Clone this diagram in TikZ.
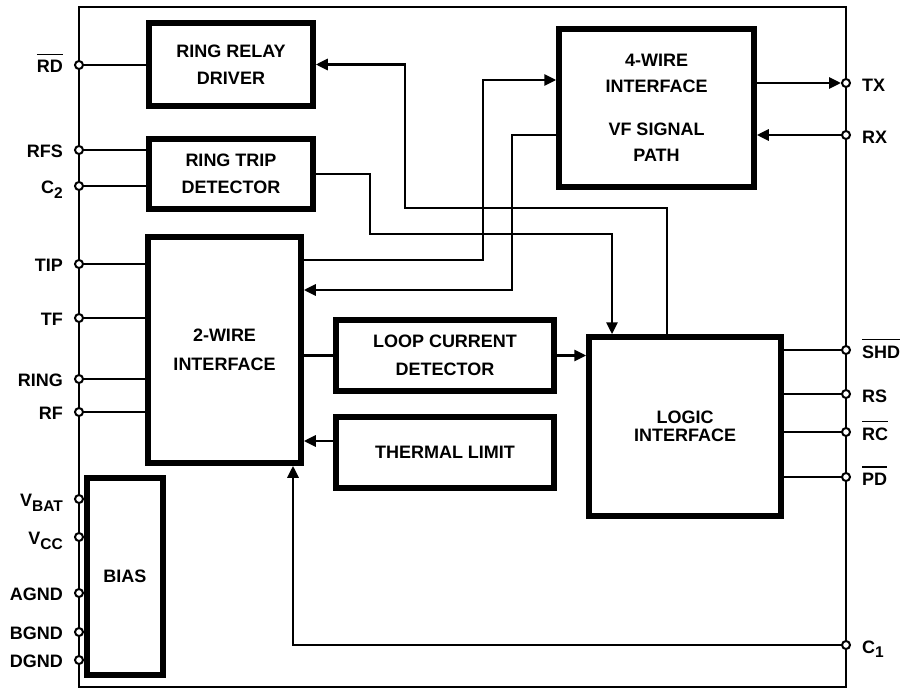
\documentclass[tikz,border=0pt]{standalone}
\usepackage{fontspec}
\setmainfont{Liberation Sans}
\usetikzlibrary{arrows.meta}
\newcommand\ovl[1]{\leavevmode\vbox{\hrule height 1.5pt\kern 5.5pt\hbox{#1}}}
\newcommand\sbs[1]{\raisebox{-4.5pt}{\fontsize{15.5}{15.5}\selectfont #1}}
\begin{document}
\begin{tikzpicture}[x=1pt,y=-1pt,
  wire/.style={line width=2.9pt},
  arr/.style={wire,-{Triangle[length=12pt,width=11pt]}},
  blk/.style={draw, line width=5.5pt, align=center, inner sep=0pt,
    font=\fontsize{18}{27.5}\selectfont\bfseries},
  pinc/.style={circle, draw, fill=white, line width=2pt, minimum size=8pt, inner sep=0pt},
  lbl/.style={inner sep=0pt, text height=12.9pt, text depth=0pt, font=\fontsize{18}{20}\selectfont\bfseries},
  lblL/.style={lbl, anchor=east},
  lblR/.style={lbl, anchor=west}]
\useasboundingbox (0,0) rectangle (904,690);
\draw[line width=2.9pt] (79,7) rectangle (846,687);

% blocks
\node[blk, minimum width=164pt, minimum height=83pt] (rrd) at (231,64.5) {RING RELAY\\DRIVER};
\node[blk, minimum width=164pt, minimum height=70pt] (rtd) at (231,174) {RING TRIP\\DETECTOR};
\node[blk, minimum width=195pt, minimum height=158pt,
  font=\fontsize{18}{26}\selectfont\bfseries] (fw) at (656.5,108) {4-WIRE\\INTERFACE\\[17.5pt]VF SIGNAL\\PATH};
\node[blk, minimum width=153pt, minimum height=226pt,
  font=\fontsize{18}{29.5}\selectfont\bfseries] (tw) at (224.5,350) {2-WIRE\\INTERFACE};
\node[blk, minimum width=218pt, minimum height=71pt] (loop) at (445,355.5) {LOOP CURRENT\\DETECTOR};
\node[blk, minimum width=218pt, minimum height=71pt] (therm) at (445,452.5) {THERMAL LIMIT};
\node[blk, minimum width=192pt, minimum height=179pt,
  font=\fontsize{18}{18.5}\selectfont\bfseries] (logic) at (685,426.5) {LOGIC\\INTERFACE};
\node[blk, minimum width=76pt, minimum height=197pt] (bias) at (125,576.5) {BIAS};

% pins left
\node[pinc] (pRD) at (79,65) {};
\node[pinc] (pRFS) at (79,150) {};
\node[pinc] (pC2) at (79,186) {};
\node[pinc] (pTIP) at (79,264) {};
\node[pinc] (pTF) at (79,318) {};
\node[pinc] (pRING) at (79,379) {};
\node[pinc] (pRF) at (79,412) {};
\node[pinc] (pVBAT) at (79,499) {};
\node[pinc] (pVCC) at (79,537) {};
\node[pinc] (pAGND) at (79,593) {};
\node[pinc] (pBGND) at (79,632) {};
\node[pinc] (pDGND) at (79,660) {};
% pins right
\node[pinc] (pTX) at (846,83) {};
\node[pinc] (pRX) at (846,135) {};
\node[pinc] (pSHD) at (846,350) {};
\node[pinc] (pRS) at (846,394) {};
\node[pinc] (pRC) at (846,432) {};
\node[pinc] (pPD) at (846,477) {};
\node[pinc] (pC1) at (846,645) {};

% labels left
\node[lblL] (lRD) at (63,66.5) {\ovl{RD}};
\node[lblL] (lRFS) at (63,151.5) {RFS};
\node[lblL] (lC2) at (63,187.5) {C\sbs{2}};
\node[lblL] (lTIP) at (63,265.5) {TIP};
\node[lblL] (lTF) at (63,319.5) {TF};
\node[lblL] (lRING) at (63,380.5) {RING};
\node[lblL] (lRF) at (63,413.5) {RF};
\node[lblL] (lVBAT) at (63,500.5) {V\sbs{BAT}};
\node[lblL] (lVCC) at (63,538.5) {V\sbs{CC}};
\node[lblL] (lAGND) at (63,594.5) {AGND};
\node[lblL] (lBGND) at (63,633.5) {BGND};
\node[lblL] (lDGND) at (63,661.5) {DGND};
% labels right
\node[lblR] (lTX) at (862,85) {TX};
\node[lblR] (lRX) at (862,137) {RX};
\node[lblR] (lSHD) at (862,352) {\ovl{SHD}};
\node[lblR] (lRS) at (862,396) {RS};
\node[lblR] (lRC) at (862,434) {\ovl{RC}};
\node[lblR] (lPD) at (862,479) {\ovl{PD}};
\node[lblR] (lC1) at (862,647) {C\sbs{1}};

% routing points
\coordinate (a1) at (667,208);
\coordinate (a2) at (405,208);
\coordinate (b1) at (370,234);
\coordinate (b2) at (612,234);
\coordinate (c1) at (483,260);
\coordinate (c2) at (483,80);
\coordinate (d1) at (512,135);
\coordinate (d2) at (512,290);
\coordinate (e1) at (320,441);
\coordinate (f1) at (293,645);

% connectors
\draw[wire] (pRD) -- (pRD -| rrd.west);
\draw[arr] (logic.north -| a1) -- (a1) -- (a2) |- (rrd.east);
\draw[wire] (pRFS) -- (pRFS -| rtd.west);
\draw[wire] (pC2) -- (pC2 -| rtd.west);
\draw[arr] (rtd.east) -| (b1) -- (b2) -- (b2 |- logic.north);
\draw[arr] (c1 -| tw.east) -- (c1) -- (c2) -- (c2 -| fw.west);
\draw[arr] (d1 -| fw.west) -- (d1) -- (d2) -- (d2 -| tw.east);
\draw[arr] (pTX -| fw.east) -- (pTX);
\draw[arr] (pRX) -- (pRX -| fw.east);
\draw[wire] (pTIP) -- (pTIP -| tw.west);
\draw[wire] (pTF) -- (pTF -| tw.west);
\draw[wire] (pRING) -- (pRING -| tw.west);
\draw[wire] (pRF) -- (pRF -| tw.west);
\draw[wire] (loop.west -| tw.east) -- (loop.west);
\draw[arr] (loop.east) -- (loop.east -| logic.west);
\draw[arr] (e1 -| therm.west) -- (e1 -| tw.east);
\draw[wire] (pSHD -| logic.east) -- (pSHD);
\draw[wire] (pRS -| logic.east) -- (pRS);
\draw[wire] (pRC -| logic.east) -- (pRC);
\draw[wire] (pPD -| logic.east) -- (pPD);
\draw[arr] (pC1) -- (f1) -- (f1 |- tw.south);
\draw[wire] (pVBAT) -- (pVBAT -| bias.west);
\draw[wire] (pVCC) -- (pVCC -| bias.west);
\draw[wire] (pAGND) -- (pAGND -| bias.west);
\draw[wire] (pBGND) -- (pBGND -| bias.west);
\draw[wire] (pDGND) -- (pDGND -| bias.west);
\end{tikzpicture}
\end{document}
